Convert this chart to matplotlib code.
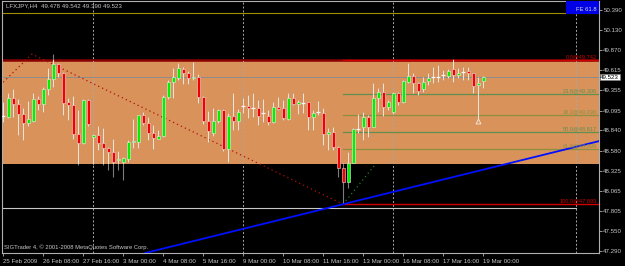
import numpy as np
import matplotlib
matplotlib.use("Agg")
import matplotlib.pyplot as plt
from matplotlib.patches import Rectangle

plt.rcParams['font.family'] = ['Liberation Sans', 'DejaVu Sans']

# LFXJPY H4 bars, 25 Feb 2009 00:00 .. 19 Mar 2009 00:00
opens = [49.020, 49.013, 49.256, 49.176, 49.047, 48.939, 48.965, 49.240, 49.176, 49.368,
         49.500, 49.693, 49.574, 49.201, 49.167, 48.790, 48.675, 49.231, 48.760, 48.781,
         48.675, 48.611, 48.560, 48.461, 48.431, 48.474, 48.688, 48.695, 49.038, 48.932,
         48.803, 48.726, 48.769, 49.265, 49.466, 49.517, 49.625, 49.581, 49.509, 49.530,
         49.265, 48.965, 48.803, 48.965, 49.102, 48.598, 49.029, 48.961, 49.158, 49.158,
         49.132, 49.124, 49.062, 49.025, 48.952, 49.137, 49.124, 48.987, 49.260, 49.180,
         49.196, 49.201, 49.009, 49.073, 49.068, 48.794, 48.824, 48.631, 48.354, 48.174,
         48.426, 48.855, 48.888, 49.009, 48.888, 49.260, 49.337, 49.137, 49.073, 49.317,
         49.201, 49.466, 49.543, 49.445, 49.368, 49.479, 49.522, 49.530, 49.552, 49.539,
         49.625, 49.552, 49.594, 49.603, 49.574, 49.423, 49.478]
highs = [49.205, 49.325, 49.372, 49.244, 49.132, 49.218, 49.321, 49.282, 49.402, 49.638,
         49.821, 49.710, 49.594, 49.253, 49.282, 49.102, 49.240, 49.240, 48.794, 48.897,
         48.871, 48.631, 48.726, 48.576, 48.503, 48.717, 48.983, 49.038, 49.077, 49.016,
         48.910, 48.846, 49.295, 49.488, 49.638, 49.710, 49.651, 49.607, 49.722, 49.565,
         49.282, 49.090, 49.124, 49.111, 49.111, 49.060, 49.317, 49.111, 49.253, 49.295,
         49.317, 49.231, 49.240, 49.102, 49.209, 49.273, 49.231, 49.317, 49.317, 49.231,
         49.317, 49.209, 49.102, 49.222, 49.132, 48.867, 48.880, 48.640, 48.418, 48.567,
         48.867, 49.051, 49.081, 49.038, 49.453, 49.381, 49.445, 49.231, 49.337, 49.337,
         49.488, 49.710, 49.574, 49.466, 49.530, 49.581, 49.658, 49.680, 49.616, 49.625,
         49.753, 49.638, 49.658, 49.658, 49.581, 49.530, 49.542]
lows = [48.948, 49.000, 49.016, 48.781, 48.717, 48.897, 48.952, 49.102, 49.081, 49.295,
        49.402, 49.530, 49.038, 48.974, 48.726, 48.396, 48.666, 48.897, 48.396, 48.589,
        48.396, 48.332, 48.246, 48.332, 48.204, 48.439, 48.611, 48.611, 48.910, 48.717,
        48.602, 48.726, 48.752, 49.244, 49.253, 49.488, 49.436, 49.436, 49.488, 49.196,
        48.923, 48.695, 48.769, 48.932, 48.580, 48.439, 48.846, 48.846, 49.060, 48.996,
        49.016, 48.910, 48.952, 48.910, 48.939, 49.102, 48.974, 48.974, 49.167, 49.051,
        49.060, 48.846, 48.846, 49.038, 48.653, 48.589, 48.589, 48.246, 47.893, 48.097,
        48.418, 48.803, 48.717, 48.760, 48.880, 49.081, 49.025, 49.102, 49.047, 49.167,
        49.188, 49.445, 49.317, 49.295, 49.337, 49.423, 49.445, 49.466, 49.488, 49.509,
        49.466, 49.509, 49.488, 49.488, 49.325, 48.974, 49.390]
closes = [49.013, 49.256, 49.176, 49.047, 48.939, 48.983, 49.244, 49.176, 49.368, 49.500,
          49.693, 49.574, 49.188, 49.167, 48.790, 48.675, 49.231, 48.919, 48.781, 48.675,
          48.611, 48.560, 48.431, 48.474, 48.490, 48.688, 48.708, 49.038, 48.932, 48.803,
          48.739, 48.769, 49.265, 49.466, 49.522, 49.638, 49.574, 49.509, 49.522, 49.265,
          48.965, 48.833, 48.965, 49.102, 48.598, 49.029, 48.961, 49.081, 49.155, 49.124,
          49.129, 49.029, 49.058, 48.945, 49.137, 49.111, 48.996, 49.260, 49.180, 49.209,
          49.199, 49.009, 49.068, 49.077, 48.794, 48.824, 48.631, 48.354, 48.174, 48.426,
          48.855, 48.859, 49.009, 48.880, 49.260, 49.337, 49.137, 49.209, 49.317, 49.201,
          49.475, 49.543, 49.445, 49.346, 49.466, 49.509, 49.526, 49.539, 49.549, 49.607,
          49.552, 49.581, 49.597, 49.581, 49.414, 49.445, 49.523]

date_labels = ["25 Feb 2009", "26 Feb 08:00", "27 Feb 16:00", "3 Mar 00:00", "4 Mar 08:00",
               "5 Mar 16:00", "9 Mar 00:00", "10 Mar 08:00", "11 Mar 16:00", "13 Mar 00:00",
               "16 Mar 08:00", "17 Mar 16:00", "19 Mar 00:00"]
date_bars = [0, 8, 16, 24, 32, 40, 48, 56, 64, 72, 80, 88, 96]
price_ticks = [50.390, 50.130, 49.870, 49.615, 49.355, 49.095, 48.840, 48.580,
               48.325, 48.065, 47.805, 47.550, 47.290]

# fibo retracement (from bar 68)
fib_start = 68
fib_pcts = ["0.0", "23.6", "38.2", "50.0", "61.8", "100.0"]
fib_prices = [49.742, 49.306, 49.036, 48.817, 48.599, 47.893]
fib_colors = ['#d00000', '#5f9050', '#8a9040', '#5f9050', '#8a9040', '#d00000']

zone = [48.413, 49.742]          # orange box
separators = [18, 48, 78, 114.6]  # dashed verticals (bar index)
trend_pts = [(68, 47.893), (119, 48.700)]
red_dots = [(-0.6, 49.42), (5.8, 49.82), (68, 47.893)]
green_dots = [(68, 47.893), (74.6, 48.413)]
hline_gray = 47.841
top_line = 50.344
bid = 49.523

bg = '#000000'
txt = '#c8c8c8'
fs = 4.4
fig = plt.figure(figsize=(6.25, 2.66), dpi=100, facecolor=bg)
ax = fig.add_axes([2 / 625, 13 / 266, 596.5 / 625, 252 / 266], facecolor=bg)
ax.set_xlim(-0.2, 119.1)
ax.set_ylim(47.267, 50.502)

rect = Rectangle((-1, zone[0]), 130, zone[1] - zone[0], facecolor='#d9925a',
                 edgecolor='none', zorder=1)
ax.add_patch(rect)
ax.axhline(zone[1], color='#8a0000', lw=1.8, zorder=2)

for s in separators:
    ax.axvline(s, color='#a8a8a8', lw=0.7, ls=(0, (2, 2)), zorder=2)

ax.axhline(top_line, color='#a09000', lw=0.8, zorder=2)
ax.axhline(bid, color='#8c8c8c', lw=0.7, zorder=2)
ax.plot([-0.2, separators[-1]], [hline_gray, hline_gray], color='#c8c8c8', lw=0.8, zorder=2)

for p, c in zip(fib_prices, fib_colors):
    ax.plot([fib_start, 119.1], [p, p], color=c, lw=0.9 if c != '#d00000' else 1.0, zorder=2)
for pct, p, c in zip(fib_pcts, fib_prices, fib_colors):
    ax.text(118.7, p + 0.015, f"{pct}@{p:.3f}", color=c, fontsize=4.1,
            ha='right', va='bottom', zorder=5)

ax.axline(trend_pts[0], trend_pts[1], color='#0010ff', lw=1.3, zorder=4)
rx, ry = zip(*red_dots)
ax.plot(rx, ry, color='#b01010', lw=0.9, ls=(0, (1, 2.5)), zorder=2)
gx, gy = zip(*green_dots)
ax.plot(gx, gy, color='#208020', lw=0.9, ls=(0, (1, 2.5)), zorder=2)

# candles
x = np.arange(len(opens))
o = np.array(opens); h = np.array(highs); l = np.array(lows); c = np.array(closes)
w1 = ax.vlines(x, l, h, color='#7c7c7c', lw=0.8, zorder=3)
w2 = ax.vlines(x, l, h, color='#f2e2d2', lw=0.8, zorder=3)
w2.set_clip_path(rect)
body = np.abs(c - o) >= 0.012
up = c >= o
ax.bar(x[body & up], (c - o)[body & up], bottom=o[body & up], width=0.6,
       color='#00f000', edgecolor='#e8f0e8', lw=0.4, zorder=4)
ax.bar(x[body & ~up], (o - c)[body & ~up], bottom=c[body & ~up], width=0.6,
       color='#f00000', edgecolor='#f0d8d8', lw=0.4, zorder=4)
ax.hlines(o[~body], x[~body] - 0.35, x[~body] + 0.35, color='#f4f4f4', lw=0.9, zorder=4)
ax.plot([95], [48.96], marker='^', ms=3.5, mfc='none', mec='#f2e2d2', mew=0.7, zorder=5)

# axes cosmetics
for sp in ax.spines.values():
    sp.set_color('#b0b0b0')
    sp.set_linewidth(0.8)
ax.yaxis.tick_right()
ax.set_yticks(price_ticks)
ax.set_yticklabels([f"{v:.3f}" for v in price_ticks])
ax.tick_params(axis='y', colors='#b0b0b0', labelcolor=txt, labelsize=fs,
               length=2.5, width=0.6, pad=1)
ax.set_xticks(date_bars)
ax.set_xticklabels(date_labels)
ax.tick_params(axis='x', colors='#b0b0b0', labelcolor=txt, labelsize=fs,
               length=2.5, width=0.6, pad=1.5)
for lbl in ax.get_xticklabels():
    lbl.set_ha('left')

# header, footer, markers
ax.text(0.6, 50.44, "LFXJPY,H4  49.478 49.542 49.390 49.523", color=txt,
        fontsize=fs, ha='left', va='center')
ax.text(0.2, 47.34, "SIGTrader 4, \u00a9 2001-2008 MetaQuotes Software Corp.",
        color=txt, fontsize=4.2, ha='left', va='center', zorder=6)
ax.add_patch(Rectangle((112.6, 50.33), 6.6, 0.18, facecolor='#0000e6',
                       edgecolor='none', zorder=3))
ax.text(118.8, 50.39, "FE 61.8", color='#d8d8e8', fontsize=4.2, ha='right',
        va='center', zorder=5)
ax.text(1.003, bid, "49.523", transform=ax.get_yaxis_transform(), color='black',
        fontsize=fs, ha='left', va='center',
        bbox=dict(boxstyle='square,pad=0.12', fc='white', ec='#808080', lw=0.4),
        zorder=6, clip_on=False)

fig.savefig("out.png", dpi=100, facecolor=bg)
